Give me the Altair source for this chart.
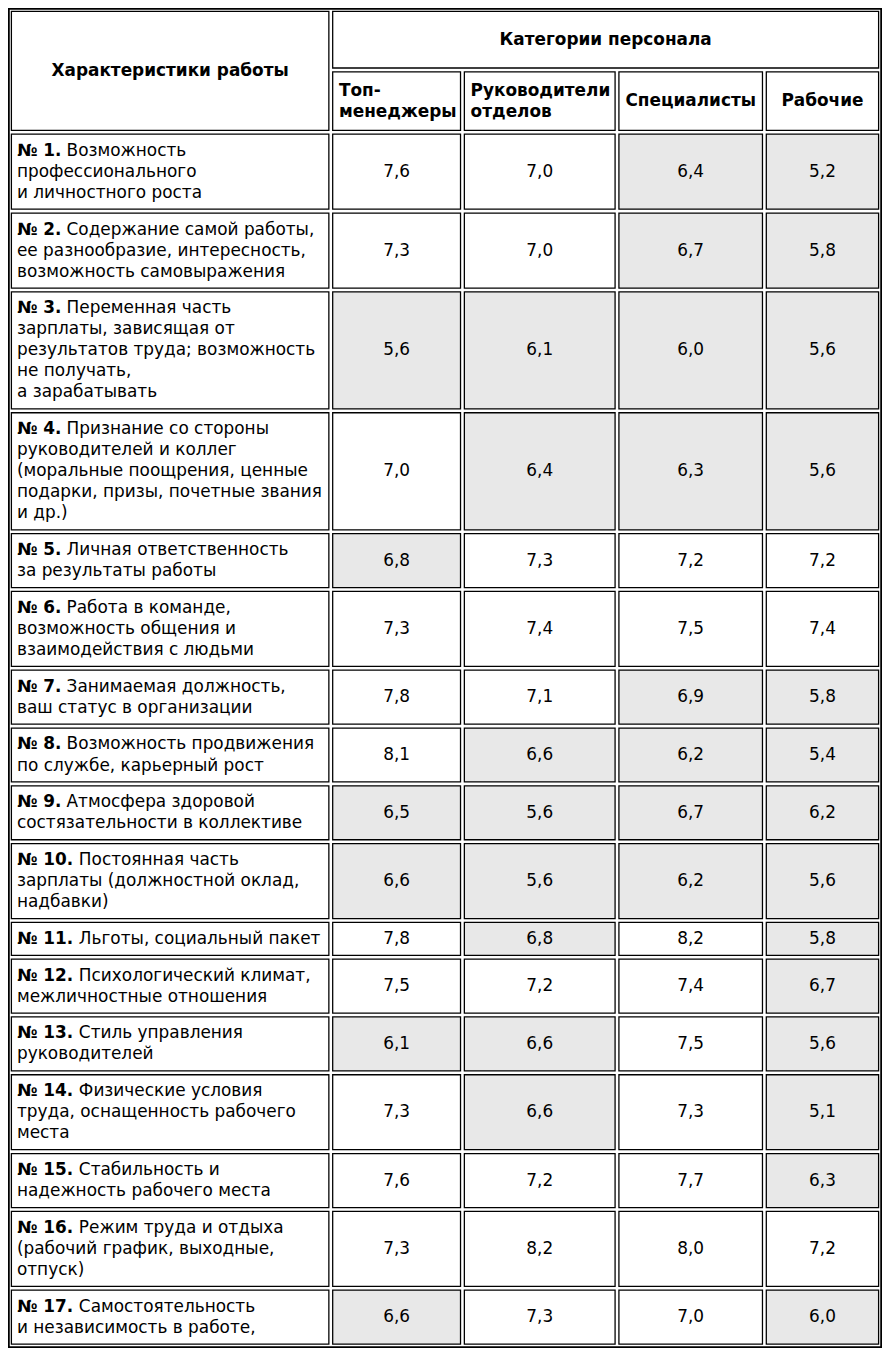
import altair as alt
import pandas as pd

# ---------------- data ----------------
row_header = "Характеристики работы"
group_header = "Категории персонала"
categories = [["Топ-", "менеджеры"], ["Руководители", "отделов"], ["Специалисты"], ["Рабочие"]]
category_align = ["left", "left", "center", "center"]

row_numbers = list(range(1, 18))
label_lines = [
    ["Возможность", "профессионального", "и личностного роста"],
    ["Содержание самой работы,", "ее разнообразие, интересность,", "возможность самовыражения"],
    ["Переменная часть", "зарплаты, зависящая от", "результатов труда; возможность", "не получать,", "а зарабатывать"],
    ["Признание со стороны", "руководителей и коллег", "(моральные поощрения, ценные", "подарки, призы, почетные звания", "и др.)"],
    ["Личная ответственность", "за результаты работы"],
    ["Работа в команде,", "возможность общения и", "взаимодействия с людьми"],
    ["Занимаемая должность,", "ваш статус в организации"],
    ["Возможность продвижения", "по службе, карьерный рост"],
    ["Атмосфера здоровой", "состязательности в коллективе"],
    ["Постоянная часть", "зарплаты (должностной оклад,", "надбавки)"],
    ["Льготы, социальный пакет"],
    ["Психологический климат,", "межличностные отношения"],
    ["Стиль управления", "руководителей"],
    ["Физические условия", "труда, оснащенность рабочего", "места"],
    ["Стабильность и", "надежность рабочего места"],
    ["Режим труда и отдыха", "(рабочий график, выходные,", "отпуск)"],
    ["Самостоятельность", "и независимость в работе,"],
]
top_managers = [7.6, 7.3, 5.6, 7.0, 6.8, 7.3, 7.8, 8.1, 6.5, 6.6, 7.8, 7.5, 6.1, 7.3, 7.6, 7.3, 6.6]
dept_heads = [7.0, 7.0, 6.1, 6.4, 7.3, 7.4, 7.1, 6.6, 5.6, 5.6, 6.8, 7.2, 6.6, 6.6, 7.2, 8.2, 7.3]
specialists = [6.4, 6.7, 6.0, 6.3, 7.2, 7.5, 6.9, 6.2, 6.7, 6.2, 8.2, 7.4, 7.5, 7.3, 7.7, 8.0, 7.0]
workers = [5.2, 5.8, 5.6, 5.6, 7.2, 7.4, 5.8, 5.4, 6.2, 5.6, 5.8, 6.7, 5.6, 5.1, 6.3, 7.2, 6.0]
series = [top_managers, dept_heads, specialists, workers]
threshold = 7.0  # cells below this value are shaded

# ---------------- layout (table units) ----------------
TABLE_W, TABLE_H = 889.5, 1363.5
W, H = 874, 1340
K = W / TABLE_W
FONT = 17.2 * K
LINE = 21.4
GAP = 2.6
STROKE = 1.3
col_edges = [1.5, 328.5, 462.5, 619.8, 769.8, 888.0]
head_edges = [1.5, 63.0, 126.5]
ROW_BASE = 16.0
PAD_L = 6.3
prefix_w = {1: 50.5, 2: 63.0}

row_edges = [head_edges[-1]]
for lines in label_lines:
    row_edges.append(row_edges[-1] + ROW_BASE + LINE * len(lines))


def span(a, b):
    return a + GAP / 2, b - GAP / 2


cells, hdr_c, hdr_l, bold_pref, reg_lines, vals = [], [], [], [], [], []

# header cells
x0, x1 = span(col_edges[0], col_edges[1])
y0, y1 = span(head_edges[0], head_edges[2])
cells.append(dict(x=x0, x2=x1, y=y0, y2=y1, shade="plain"))
hdr_c.append(dict(x=(x0 + x1) / 2, y=(y0 + y1) / 2, t=row_header))
x0, _ = span(col_edges[1], col_edges[2])
_, x1 = span(col_edges[4], col_edges[5])
y0, y1 = span(head_edges[0], head_edges[1])
cells.append(dict(x=x0, x2=x1, y=y0, y2=y1, shade="plain"))
hdr_c.append(dict(x=(x0 + x1) / 2, y=(y0 + y1) / 2, t=group_header))
for j, (lines, al) in enumerate(zip(categories, category_align)):
    x0, x1 = span(col_edges[j + 1], col_edges[j + 2])
    y0, y1 = span(head_edges[1], head_edges[2])
    cells.append(dict(x=x0, x2=x1, y=y0, y2=y1, shade="plain"))
    yc = (y0 + y1) / 2
    for i, ln in enumerate(lines):
        yy = yc + (i - (len(lines) - 1) / 2) * LINE
        if al == "left":
            hdr_l.append(dict(x=x0 + 7.0, y=yy, t=ln))
        else:
            hdr_c.append(dict(x=(x0 + x1) / 2, y=yy, t=ln))

# body
for r, lines in enumerate(label_lines):
    y0, y1 = span(row_edges[r], row_edges[r + 1])
    yc = (y0 + y1) / 2
    x0, x1 = span(col_edges[0], col_edges[1])
    cells.append(dict(x=x0, x2=x1, y=y0, y2=y1, shade="plain"))
    n = len(lines)
    num = row_numbers[r]
    for i, ln in enumerate(lines):
        yy = yc + (i - (n - 1) / 2) * LINE
        xx = x0 + PAD_L
        if i == 0:
            bold_pref.append(dict(x=xx, y=yy, t=f"№ {num}."))
            xx += prefix_w[len(str(num))]
        reg_lines.append(dict(x=xx, y=yy, t=ln))
    for j, s in enumerate(series):
        v = s[r]
        cx0, cx1 = span(col_edges[j + 1], col_edges[j + 2])
        cells.append(dict(x=cx0, x2=cx1, y=y0, y2=y1, shade="low" if v < threshold else "plain"))
        vals.append(dict(x=(cx0 + cx1) / 2, y=yc, v=v))

# inset by half stroke so the stroke stays inside the cell extents
cells_df = pd.DataFrame(cells)
cells_df["x"] += STROKE / 2
cells_df["x2"] -= STROKE / 2
cells_df["y"] += STROKE / 2
cells_df["y2"] -= STROKE / 2

xs = alt.Scale(domain=[0, TABLE_W], nice=False, zero=False)
ys = alt.Scale(domain=[0, TABLE_H], nice=False, zero=False, reverse=True)
X = lambda f="x": alt.X(f"{f}:Q", scale=xs, axis=None)
Y = lambda f="y": alt.Y(f"{f}:Q", scale=ys, axis=None)

outer = alt.Chart(pd.DataFrame([dict(x=0.9, x2=TABLE_W - 0.9, y=0.8, y2=TABLE_H - 0.8)])).mark_rect(
    fill="white", stroke="black", strokeWidth=1.8 * K
).encode(x=X(), x2="x2:Q", y=Y(), y2="y2:Q")

cell_layer = alt.Chart(cells_df).mark_rect(stroke="black", strokeWidth=STROKE * K).encode(
    x=X(), x2="x2:Q", y=Y(), y2="y2:Q",
    fill=alt.Fill("shade:N", scale=alt.Scale(domain=["plain", "low"], range=["#ffffff", "#e8e8e8"]), legend=None),
)

txt = dict(font="DejaVu Sans", fontSize=FONT, color="#000000", baseline="middle")

hc = alt.Chart(pd.DataFrame(hdr_c)).mark_text(align="center", fontWeight="bold", **txt).encode(
    x=X(), y=Y(), text="t:N")
hl = alt.Chart(pd.DataFrame(hdr_l)).mark_text(align="left", fontWeight="bold", **txt).encode(
    x=X(), y=Y(), text="t:N")
bp = alt.Chart(pd.DataFrame(bold_pref)).mark_text(align="left", fontWeight="bold", **txt).encode(
    x=X(), y=Y(), text="t:N")
rl = alt.Chart(pd.DataFrame(reg_lines)).mark_text(align="left", **txt).encode(
    x=X(), y=Y(), text="t:N")
vl = alt.Chart(pd.DataFrame(vals)).transform_calculate(
    lab="replace(format(datum.v, '.1f'), '.', ',')"
).mark_text(align="center", **txt).encode(x=X(), y=Y(), text="lab:N")

chart = alt.layer(outer, cell_layer, hc, hl, bp, rl, vl).properties(
    width=W, height=H, padding=0, autosize=alt.AutoSizeParams(type="none")
).configure_view(stroke=None)

chart.save("out.html", embed_options={"renderer": "svg", "actions": False})
